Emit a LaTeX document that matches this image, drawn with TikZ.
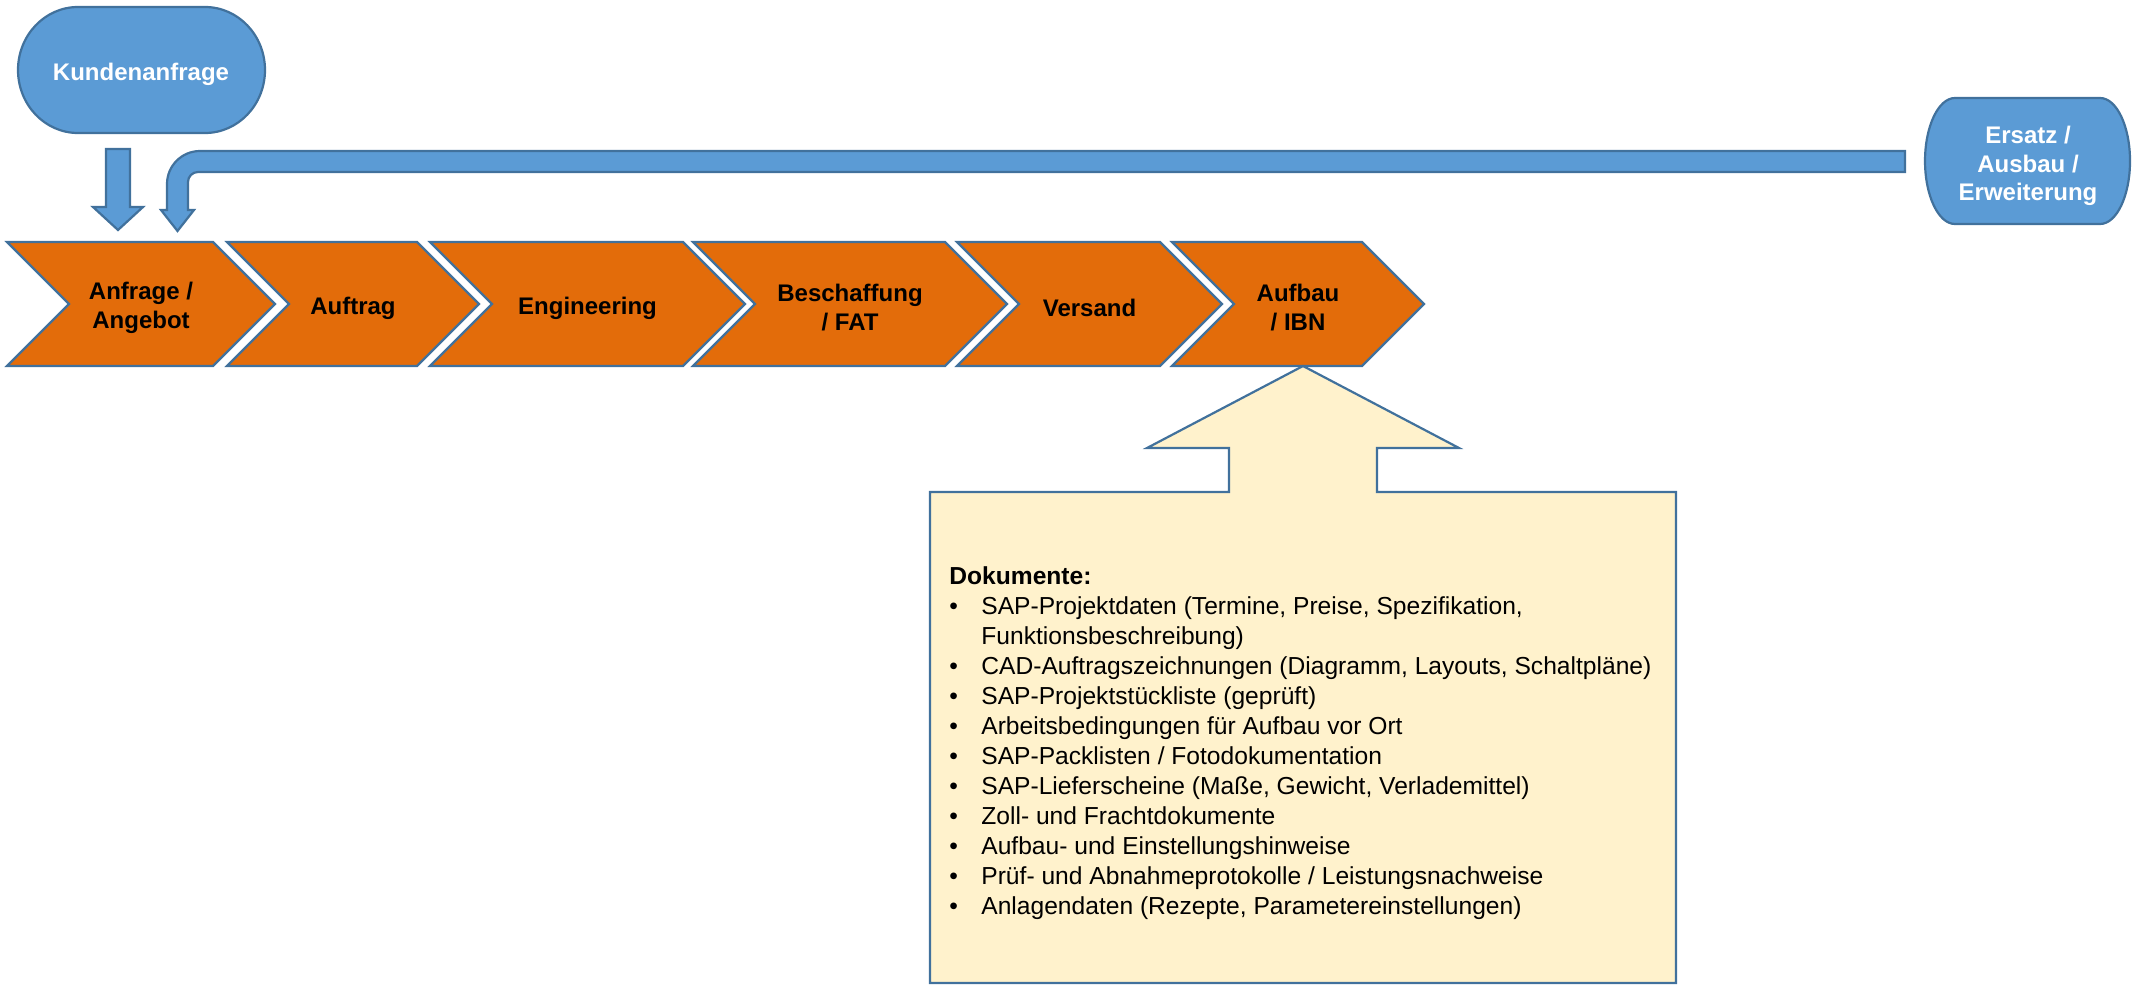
\documentclass[tikz,border=0pt]{standalone}
\usepackage{fontspec}
\setmainfont{Liberation Sans}
\definecolor{chevfill}{HTML}{E36C0A}
\definecolor{edgeblue}{HTML}{41719C}
\definecolor{termfill}{HTML}{5B9BD5}
\definecolor{notefill}{HTML}{FFF2CC}
\tikzset{
  chev/.style={fill=chevfill,draw=edgeblue,line width=1.1pt},
  term/.style={fill=termfill,draw=edgeblue,line width=1.1pt},
  note/.style={fill=notefill,draw=edgeblue,line width=1.1pt},
  chevtext/.style={font=\fontsize{12}{14.5}\selectfont\bfseries,align=center,inner sep=0},
  termtext/.style={font=\fontsize{12}{14.3}\selectfont\bfseries,text=white,align=center,inner sep=0},
}
\begin{document}
\begin{tikzpicture}[x=0.5pt,y=-0.5pt]
    \useasboundingbox (0,0) rectangle (2134,985);
    % start and return terminators
    \draw[term] (78,7) -- (205,7) .. controls (238.1,7) and (265,35.2) .. (265,70) .. controls (265,104.8) and (238.1,133) .. (205,133) -- (78,133) .. controls (44.9,133) and (18,104.8) .. (18,70) .. controls (18,35.2) and (44.9,7) .. (78,7) -- cycle;
    \path (141,74) node [termtext](kunde){Kundenanfrage};
    \draw[term] (1955,98) -- (2100,98) .. controls (2116.6,98) and (2130,126.2) .. (2130,161) .. controls (2130,195.8) and (2116.6,224) .. (2100,224) -- (1955,224) .. controls (1938.4,224) and (1925,195.8) .. (1925,161) .. controls (1925,126.2) and (1938.4,98) .. (1955,98) -- cycle;
    \path (2028,166) node [termtext](ersatz){Ersatz /\\Ausbau /\\Erweiterung};
    % block arrows into the first step
    \draw[term] (106,149) -- (130,149) -- (130,207) -- (143,207) -- (118,230) -- (93,207) -- (106,207) -- cycle;
    \draw[term] (1905,151) -- (200,151) .. controls (181.8,151) and (167,165.8) .. (167,184) -- (167,210) -- (161,210) -- (177.5,231) -- (194,210) -- (188,210) -- (188,182) .. controls (188,176.5) and (192.5,172) .. (198,172) -- (1905,172) -- cycle;
    % process steps
    \draw[chev] (7,242) -- (213,242) -- (275,304) -- (213,366) -- (7,366) -- (69,304) -- cycle;
    \draw[chev] (227,242) -- (417,242) -- (479,304) -- (417,366) -- (227,366) -- (289,304) -- cycle;
    \draw[chev] (430,242) -- (683,242) -- (745,304) -- (683,366) -- (430,366) -- (492,304) -- cycle;
    \draw[chev] (693,242) -- (945,242) -- (1007,304) -- (945,366) -- (693,366) -- (755,304) -- cycle;
    \draw[chev] (957,242) -- (1160,242) -- (1222,304) -- (1160,366) -- (957,366) -- (1019,304) -- cycle;
    \draw[chev] (1172,242) -- (1362,242) -- (1424,304) -- (1362,366) -- (1172,366) -- (1234,304) -- cycle;
    \path (141,308) node [chevtext](s1){Anfrage /\\Angebot};
    \path (353,308) node [chevtext](s2){Auftrag};
    \path (587.5,308) node [chevtext](s3){Engineering};
    \path (850,308) node [chevtext](s4){Beschaffung\\/ FAT};
    \path (1089.5,308) node [chevtext](s5){Versand};
    \path (1298,308) node [chevtext](s6){Aufbau\\/ IBN};
    % documents callout
    \draw[note] (930,492) -- (1229,492) -- (1229,448) -- (1147,448) -- (1303,366) -- (1459,448) -- (1377,448) -- (1377,492) -- (1676,492) -- (1676,983) -- (930,983) -- cycle;
    \path (949,584) node [anchor=base west,inner sep=0,font=\fontsize{12.3}{15}\selectfont](docs){%
      \begin{tabular}[t]{@{}p{16pt}@{}l@{}}
        \multicolumn{2}{@{}l@{}}{\bfseries Dokumente:}\\
        \textbullet & SAP-Projektdaten (Termine, Preise, Spezifikation,\\
                    & Funktionsbeschreibung)\\
        \textbullet & CAD-Auftragszeichnungen (Diagramm, Layouts, Schaltpläne)\\
        \textbullet & SAP-Projektstückliste (geprüft)\\
        \textbullet & Arbeitsbedingungen für Aufbau vor Ort\\
        \textbullet & SAP-Packlisten / Fotodokumentation\\
        \textbullet & SAP-Lieferscheine (Maße, Gewicht, Verlademittel)\\
        \textbullet & Zoll- und Frachtdokumente\\
        \textbullet & Aufbau- und Einstellungshinweise\\
        \textbullet & Prüf- und Abnahmeprotokolle / Leistungsnachweise\\
        \textbullet & Anlagendaten (Rezepte, Parametereinstellungen)
      \end{tabular}};
  \end{tikzpicture}
\end{document}
